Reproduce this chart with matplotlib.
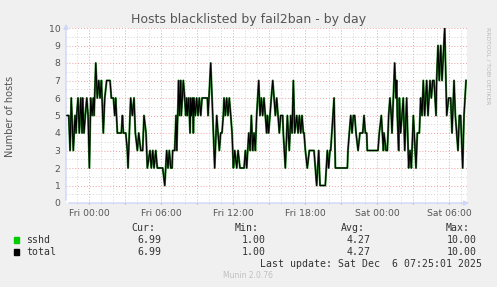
import numpy as np
import matplotlib
matplotlib.use("Agg")
import matplotlib.pyplot as plt
from matplotlib.ticker import MultipleLocator, FuncFormatter

# horas desde Fri 00:00 y número de hosts
horas = [
    -1.86, -1.69, -1.58, -1.48, -1.31, -1.17, -1.08, -1.03, -0.92, -0.81,
    -0.69, -0.58, -0.53, -0.42, -0.31, -0.19, -0.08, 0.03, 0.14, 0.25,
    0.36, 0.42, 0.56, 0.69, 0.81, 0.92, 1.03, 1.19, 1.31, 1.47,
    1.75, 1.86, 2.03, 2.14, 2.22, 2.36, 2.69, 2.78, 2.86, 3.06,
    3.19, 3.25, 3.36, 3.47, 3.61, 3.75, 3.86, 4.03, 4.14, 4.31,
    4.47, 4.58, 4.75, 4.86, 5.08, 5.19, 5.31, 5.42, 5.56, 5.69,
    6.14, 6.31, 6.47, 6.58, 6.69, 6.81, 6.92, 6.97, 7.14, 7.25,
    7.31, 7.47, 7.53, 7.64, 7.69, 7.86, 7.97, 8.06, 8.14, 8.19,
    8.31, 8.42, 8.47, 8.53, 8.64, 8.69, 8.75, 8.86, 8.97, 9.08,
    9.19, 9.31, 9.42, 9.86, 9.92, 10.14, 10.31, 10.47, 10.64, 10.75,
    10.86, 10.97, 11.08, 11.19, 11.25, 11.36, 11.47, 11.58, 11.69, 11.81,
    11.92, 12.03, 12.14, 12.31, 12.42, 12.58, 12.92, 13.03, 13.14, 13.31,
    13.42, 13.53, 13.64, 13.75, 13.86, 13.97, 14.14, 14.25, 14.36, 14.47,
    14.58, 14.69, 14.81, 14.86, 14.97, 15.08, 15.19, 15.31, 15.42, 15.53,
    15.64, 15.75, 15.86, 15.97, 16.14, 16.19, 16.36, 16.53, 16.69, 16.81,
    16.92, 17.03, 17.14, 17.31, 17.42, 17.53, 17.64, 17.75, 17.86, 17.92,
    18.03, 18.19, 18.36, 18.75, 18.97, 19.14, 19.25, 19.69, 19.86, 19.97,
    20.08, 20.14, 20.42, 20.53, 21.53, 21.58, 21.69, 21.81, 21.92, 22.03,
    22.14, 22.25, 22.42, 22.58, 22.81, 22.92, 23.03, 23.14, 23.19, 24.08,
    24.19, 24.36, 24.53, 24.58, 24.75, 24.86, 24.92, 24.97, 25.08, 25.19,
    25.25, 25.47, 25.58, 25.64, 25.69, 25.81, 25.86, 25.97, 26.19, 26.31,
    26.47, 26.64, 26.75, 26.86, 27.03, 27.25, 27.36, 27.53, 27.64, 27.75,
    27.86, 27.97, 28.14, 28.25, 28.42, 28.53, 28.64, 28.75, 28.92, 28.97,
    29.08, 29.19, 29.31, 29.42, 29.64, 29.81, 29.97, 30.14, 30.25, 30.42,
    30.53, 30.64, 30.75, 30.86, 30.97, 31.14, 31.25, 31.42,
]
hosts = [
    5, 5, 3, 6, 3, 5, 4, 5, 6, 4,
    6, 4, 6, 4, 5, 6, 5, 2, 6, 5,
    6, 5, 8, 6, 7, 6, 7, 4, 6, 7,
    7, 6, 6, 5, 6, 4, 4, 5, 4, 4,
    3, 2, 4, 6, 5, 6, 4, 3, 4, 3,
    3, 5, 4, 2, 3, 2, 3, 2, 3, 2,
    2, 1, 3, 2, 3, 2, 2, 3, 3, 5,
    3, 7, 5, 7, 5, 7, 6, 5, 6, 5,
    6, 4, 6, 5, 6, 4, 6, 5, 6, 5,
    6, 5, 6, 6, 5, 8, 5, 2, 5, 4,
    3, 4, 4, 5, 6, 5, 6, 5, 6, 5,
    4, 2, 3, 2, 3, 2, 2, 3, 2, 4,
    3, 5, 3, 4, 3, 5, 7, 5, 6, 5,
    6, 5, 4, 5, 4, 5, 6, 7, 6, 5,
    6, 5, 4, 5, 5, 4, 2, 5, 3, 5,
    4, 7, 4, 5, 4, 5, 4, 5, 4, 4,
    3, 2, 3, 3, 1, 3, 1, 1, 3, 2,
    3, 3, 6, 2, 2, 3, 4, 5, 4, 5,
    5, 4, 3, 4, 4, 5, 4, 4, 3, 3,
    4, 5, 3, 4, 3, 3, 4, 5, 6, 5,
    4, 8, 6, 7, 5, 3, 6, 4, 6, 3,
    6, 2, 3, 2, 5, 2, 4, 4, 6, 5,
    7, 5, 7, 5, 7, 6, 7, 7, 5, 7,
    9, 7, 9, 7, 10, 5, 6, 6, 4, 7,
    5, 4, 3, 5, 5, 2, 5, 7,
]

tick_horas = [0, 6, 12, 18, 24, 30]
tick_labels = ['Fri 00:00', 'Fri 06:00', 'Fri 12:00', 'Fri 18:00', 'Sat 00:00', 'Sat 06:00']

series = ['sshd', 'total']
colores = ['#00cc00', '#000000']
cur = [6.99, 6.99]
minimo = [1.00, 1.00]
media = [4.27, 4.27]
maximo = [10.00, 10.00]

W, H = 497, 287
fig = plt.figure(figsize=(W / 100, H / 100), dpi=100, facecolor='#f0f0f0')
ax = fig.add_axes([66 / W, 1 - 203 / H, 401 / W, 175 / H])
ax.set_facecolor('white')

# sshd debajo (verde), total encima (negro)
ax.plot(horas, hosts, color='#2f8a2f', lw=1.5, zorder=3)
ax.plot(horas, hosts, color=colores[1], lw=0.8, zorder=4)

ax.set_xlim(-1.92, 31.5)
ax.set_ylim(0, 10)

# rejilla estilo rrdtool
ax.xaxis.set_major_locator(MultipleLocator(3))
ax.xaxis.set_minor_locator(MultipleLocator(1))
ax.yaxis.set_major_locator(MultipleLocator(1))
ax.yaxis.set_minor_locator(MultipleLocator(0.5))
etiquetas = dict(zip(tick_horas, tick_labels))
ax.xaxis.set_major_formatter(FuncFormatter(lambda v, p: etiquetas.get(int(round(v)), '')))
ax.grid(which='major', color='#f0a0a0', lw=0.7, ls=(0, (1, 2)))
ax.grid(which='minor', color='#d4d4d4', lw=0.7, ls=(0, (1, 2)))
ax.set_axisbelow(True)

for s in ax.spines.values():
    s.set_visible(False)
ax.tick_params(axis='x', which='major', length=2, direction='inout', color='#f08080',
               labelsize=6.7, labelcolor='#555555', pad=3)
ax.tick_params(axis='x', which='minor', length=2, direction='inout', color='#cccccc')
ax.tick_params(axis='y', which='both', length=0, labelsize=6.7, labelcolor='#555555', pad=4)

# ejes con flecha
ax.annotate('', xy=(1.012, 0), xytext=(0, 0), xycoords='axes fraction',
            arrowprops=dict(arrowstyle='-|>', color='#cfd6f8', lw=1, mutation_scale=7))
ax.annotate('', xy=(0, 1.04), xytext=(0, 0), xycoords='axes fraction',
            arrowprops=dict(arrowstyle='-|>', color='#cfd6f8', lw=1, mutation_scale=7))

fig.text(0.5, 1 - 19 / H, 'Hosts blacklisted by fail2ban - by day', ha='center', va='center',
         fontsize=9, color='#555555')
fig.text(10 / W, 1 - 116 / H, 'Number of hosts', rotation=90, ha='center', va='center',
         fontsize=7, color='#555555')
fig.text(488 / W, 1 - 27 / H, 'RRDTOOL / TOBI OETIKER', rotation=270, ha='center', va='top',
         fontsize=4.3, color='#b8b8b8')

# leyenda en monoespaciado
mono = dict(family='DejaVu Sans Mono', fontsize=7.1, color='#333333', va='center')
cols_x = [155, 259, 365, 470]
for x, h in zip(cols_x, ['Cur:', 'Min:', 'Avg:', 'Max:']):
    fig.text(x / W, 1 - 228 / H, h, ha='right', **mono)
for i, nombre in enumerate(series):
    y = 1 - (240 + 12 * i) / H
    fig.patches.append(plt.Rectangle((14 / W, y - 3 / H), 5 / W, 6 / H, transform=fig.transFigure,
                                     color=colores[i], figure=fig))
    fig.text(26 / W, y, nombre, ha='left', **mono)
    for x, v in zip([161, 266, 371, 477], [cur[i], minimo[i], media[i], maximo[i]]):
        fig.text(x / W, y, f'{v:.2f}', ha='right', **mono)
fig.text(482 / W, 1 - 264 / H, 'Last update: Sat Dec  6 07:25:01 2025', ha='right', **mono)
fig.text(248 / W, 1 - 276 / H, 'Munin 2.0.76', ha='center', va='center', fontsize=5.5,
         color='#c0c0c0')

fig.savefig('out.png', dpi=100, facecolor=fig.get_facecolor())
